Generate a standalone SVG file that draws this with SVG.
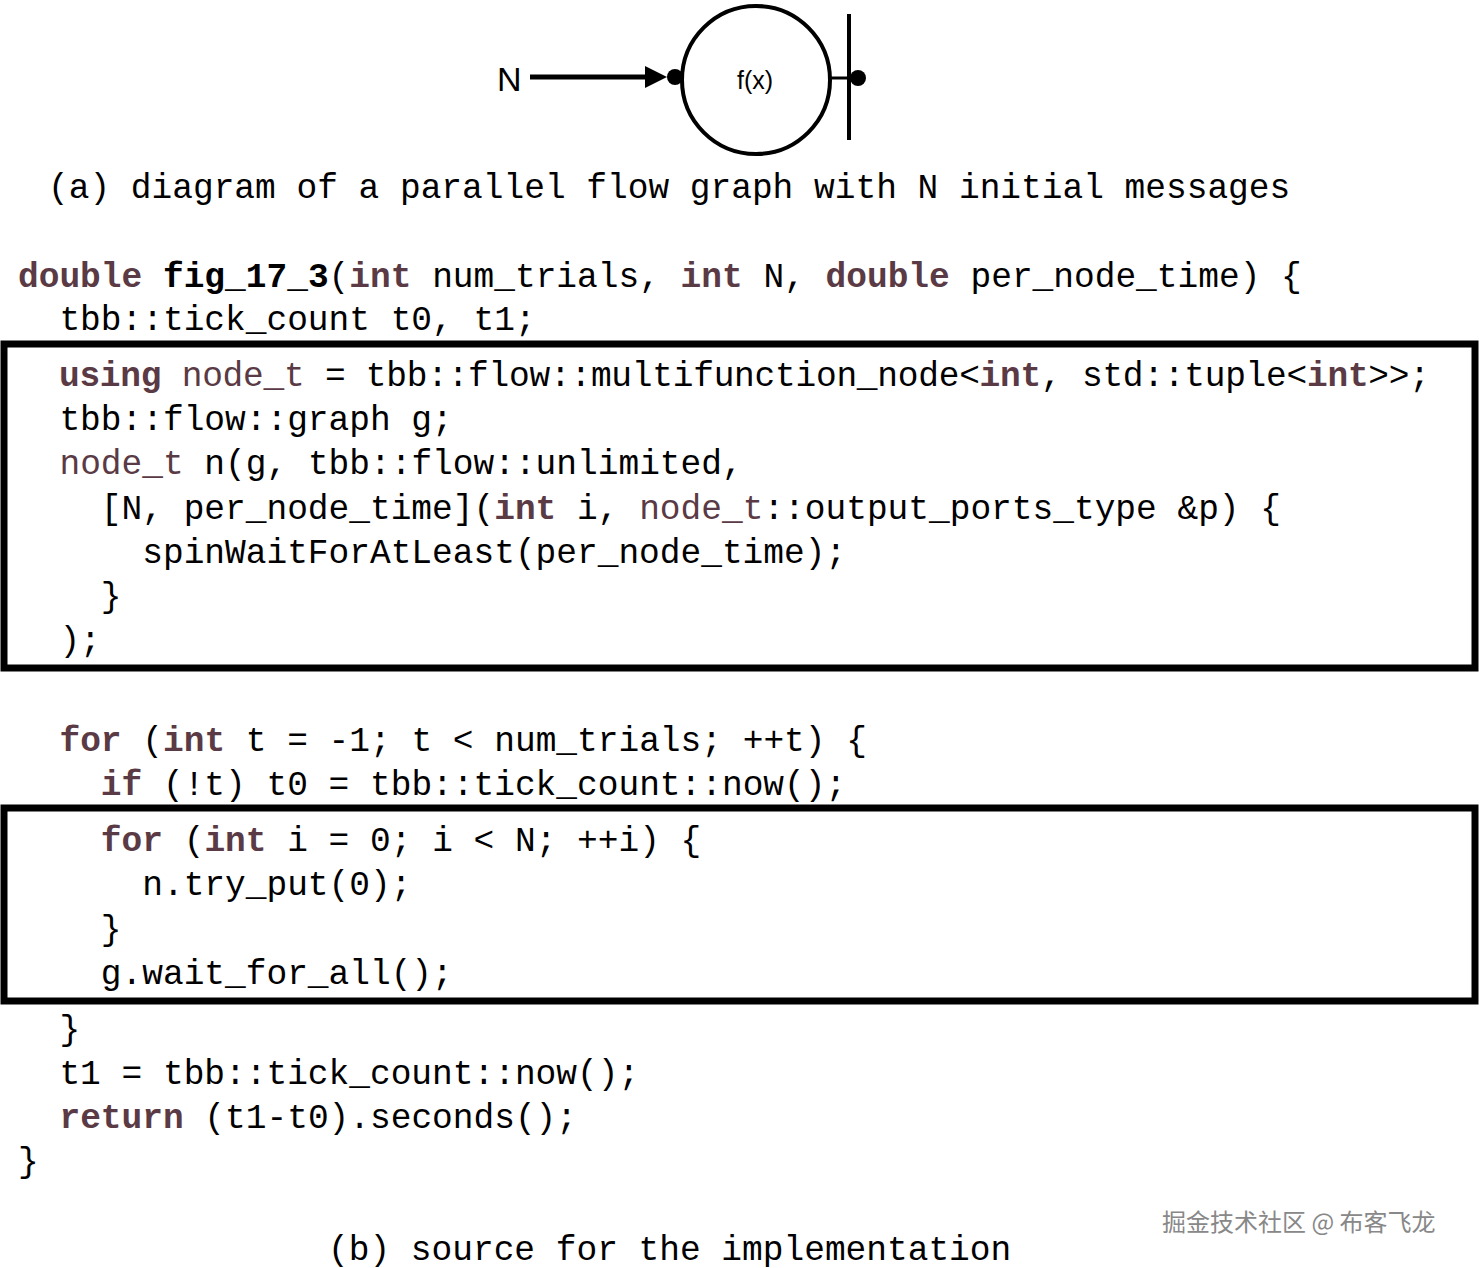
<svg xmlns="http://www.w3.org/2000/svg" width="1479" height="1268" viewBox="0 0 1479 1268">
<style>
.c{font-family:"Liberation Mono",monospace;font-size:34.5px;fill:#000;white-space:pre}
.k{font-weight:bold;fill:#5a3a44}
.t{fill:#5a3a44}
.b{font-weight:bold}
.box{fill:none;stroke:#000;stroke-width:7}
</style>
<rect width="1479" height="1268" fill="#fff"/>
<g id="connectors">
<line x1="530" y1="77" x2="650" y2="77" stroke="#000" stroke-width="5"/>
<polygon points="645,66 667,77 645,88" fill="#000"/>
<line x1="831" y1="78" x2="852" y2="78" stroke="#000" stroke-width="3"/>
</g>
<g id="node-N"><text x="497" y="91" font-family="Liberation Sans,sans-serif" font-size="34">N</text></g>
<g id="node-f">
<circle cx="756" cy="80" r="74" fill="none" stroke="#000" stroke-width="4"/>
<circle cx="675" cy="77" r="8" fill="#000"/>
<text x="755" y="89" text-anchor="middle" font-family="Liberation Sans,sans-serif" font-size="25">f(x)</text>
</g>
<g id="node-out">
<line x1="849" y1="14" x2="849" y2="140" stroke="#000" stroke-width="4"/>
<circle cx="858" cy="78" r="8" fill="#000"/>
</g>
<text class="c" x="48" y="198">(a) diagram of a parallel flow graph with N initial messages</text>
<rect class="box" x="4" y="344" width="1471" height="324"/>
<rect class="box" x="4" y="808" width="1471" height="193"/>
<g id="code">
<text class="c" x="18" y="287"><tspan class="k">double</tspan> <tspan class="b">fig_17_3</tspan>(<tspan class="k">int</tspan> num_trials, <tspan class="k">int</tspan> N, <tspan class="k">double</tspan> per_node_time) {</text>
<text class="c" x="18" y="330">  tbb::tick_count t0, t1;</text>
<text class="c" x="18" y="386" textLength="1412" lengthAdjust="spacing">  <tspan class="k">using</tspan> <tspan class="t">node_t</tspan> = tbb::flow::multifunction_node&lt;<tspan class="k">int</tspan>, std::tuple&lt;<tspan class="k">int</tspan>&gt;&gt;;</text>
<text class="c" x="18" y="430">  tbb::flow::graph g;</text>
<text class="c" x="18" y="474">  <tspan class="t">node_t</tspan> n(g, tbb::flow::unlimited,</text>
<text class="c" x="18" y="519">    [N, per_node_time](<tspan class="k">int</tspan> i, <tspan class="t">node_t</tspan>::output_ports_type &amp;p) {</text>
<text class="c" x="18" y="563">      spinWaitForAtLeast(per_node_time);</text>
<text class="c" x="18" y="607">    }</text>
<text class="c" x="18" y="651">  );</text>
<text class="c" x="18" y="751">  <tspan class="k">for</tspan> (<tspan class="k">int</tspan> t = -1; t &lt; num_trials; ++t) {</text>
<text class="c" x="18" y="795">    <tspan class="k">if</tspan> (!t) t0 = tbb::tick_count::now();</text>
<text class="c" x="18" y="851">    <tspan class="k">for</tspan> (<tspan class="k">int</tspan> i = 0; i &lt; N; ++i) {</text>
<text class="c" x="18" y="895">      n.try_put(0);</text>
<text class="c" x="18" y="940">    }</text>
<text class="c" x="18" y="984">    g.wait_for_all();</text>
<text class="c" x="18" y="1040">  }</text>
<text class="c" x="18" y="1084">  t1 = tbb::tick_count::now();</text>
<text class="c" x="18" y="1128">  <tspan class="k">return</tspan> (t1-t0).seconds();</text>
<text class="c" x="18" y="1172">}</text>
</g>
<text class="c" x="328" y="1260">(b) source for the implementation</text>
<text x="1162" y="1231" font-family="Noto Sans CJK SC,sans-serif" font-size="24" fill="#888">掘金技术社区 @ 布客飞龙</text>
</svg>
